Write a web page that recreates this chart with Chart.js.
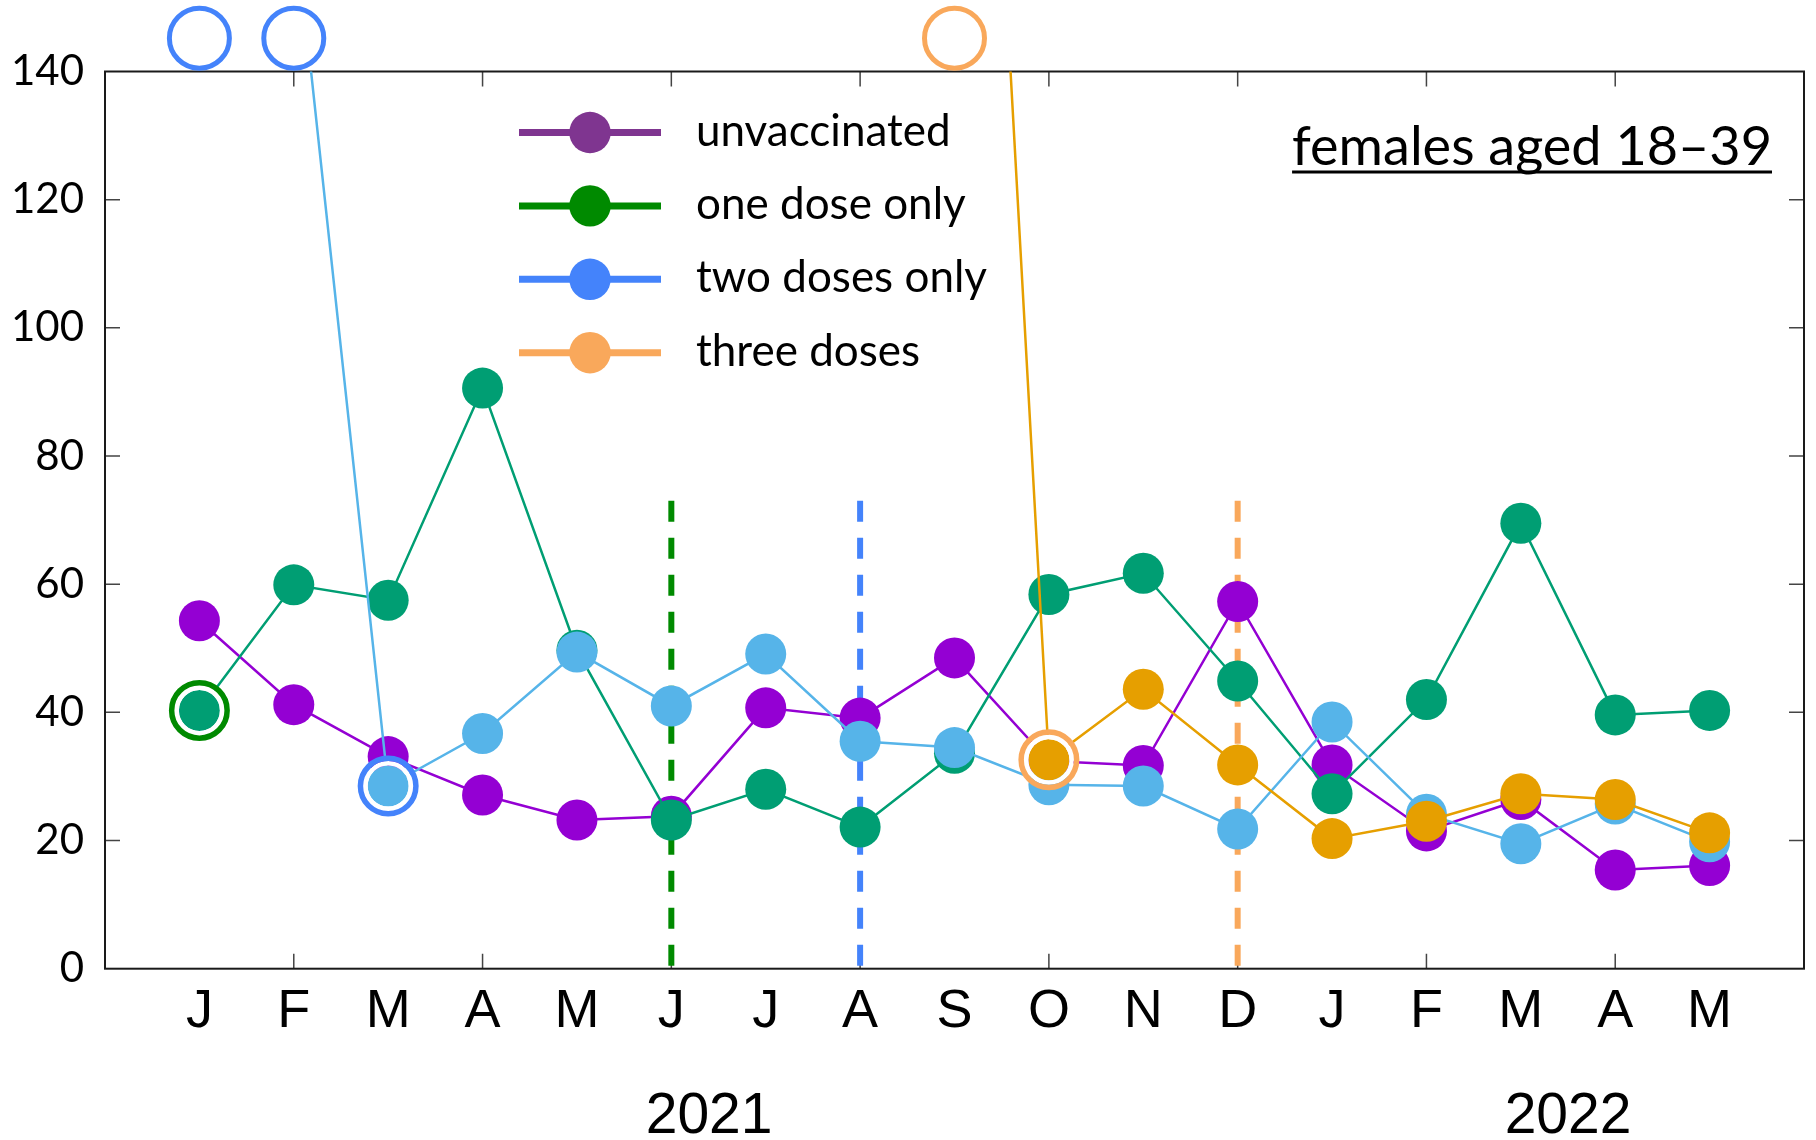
<!DOCTYPE html>
<html>
<head>
<meta charset="utf-8">
<title>females aged 18-39</title>
<script src="https://cdn.jsdelivr.net/npm/chart.js@4.4.0/dist/chart.umd.min.js"></script>
<style>
  body { margin: 0; background: #fff; }
  #wrap { width: 1816px; height: 1140px; position: relative; }
</style>
</head>
<body>
<div id="wrap"><canvas id="chart"></canvas></div>
<script>
// months from Jan 2021 to May 2022
const months = ["J", "F", "M", "A", "M", "J", "J", "A", "S", "O", "N", "D", "J", "F", "M", "A", "M"];
const years = ["2021", "2022"];
const yearCenters = [5.4, 14.5];

const unvaccinated = [54.3, 41.2, 33.1, 27.1, 23.2, 23.8, 40.7, 39.1, 48.5, 32.4, 31.7, 57.3, 31.8, 21.5, 26.4, 15.4, 16.1];
const oneDose = [40.3, 59.9, 57.5, 90.6, 49.7, 23.2, 28.0, 22.1, 33.6, 58.4, 61.7, 44.9, 27.3, 42.0, 69.5, 39.6, 40.3];
const twoDoses = [250, 165, 28.5, 36.7, 49.4, 41.0, 49.1, 35.5, 34.5, 28.7, 28.5, 21.8, 38.5, 24.1, 19.5, 25.7, 19.8];
const threeDoses = [null, null, null, null, null, null, null, null, 297, 32.6, 43.6, 31.8, 20.3, 23.0, 27.3, 26.4, 21.2];

// month index where each dose became available (dashed lines)
const doseStartMonths = [5, 7, 11];
const doseStartTop = 73;

const Y_MAX = 140;
const OFFSCALE_Y = 145.2;

const seriesColors = ["#9400d3", "#009e73", "#56b4e9", "#e69f00"];
const keyColors = ["#7f3590", "#008a00", "#4483fb", "#f9a85b"];
const seriesNames = ["unvaccinated", "one dose only", "two doses only", "three doses"];

const allSeries = [unvaccinated, oneDose, twoDoses, threeDoses];

function toPoints(values) {
    return values.map((v, i) => ({ x: i, y: v }));
}

// first value that is on the scale, for the three vaccinated groups
let ringPoints = [];
let ringColors = [];
let offPoints = [];
let offColors = [];
[oneDose, twoDoses, threeDoses].forEach((values, k) => {
    const first = values.findIndex(v => v !== null && v <= Y_MAX);
    ringPoints.push({ x: first, y: values[first] });
    ringColors.push(keyColors[k + 1]);
    values.forEach((v, i) => {
        if (v !== null && v > Y_MAX) {
            offPoints.push({ x: i, y: OFFSCALE_Y });
            offColors.push(keyColors[k + 1]);
        }
    });
});

let datasets = [];

doseStartMonths.forEach((m, k) => {
    datasets.push({
        data: [{ x: m, y: doseStartTop }, { x: m, y: 0 }],
        borderColor: keyColors[k + 1],
        borderWidth: 6,
        borderDash: [21, 16],
        borderCapStyle: "butt",
        pointRadius: 0,
        order: 10
    });
});

allSeries.forEach((values, k) => {
    datasets.push({
        label: seriesNames[k],
        data: toPoints(values),
        borderColor: seriesColors[k],
        backgroundColor: seriesColors[k],
        borderWidth: 2.5,
        pointRadius: 20.5,
        pointHoverRadius: 20.5,
        pointBorderWidth: 0,
        pointBackgroundColor: seriesColors[k],
        order: 3 - k
    });
});

// white gap and coloured ring round the first point of each group
datasets.push({
    data: ringPoints,
    showLine: false,
    pointRadius: 22.75,
    pointHoverRadius: 22.75,
    pointBorderWidth: 4.5,
    pointBorderColor: "#ffffff",
    pointBackgroundColor: "rgba(0,0,0,0)",
    order: -1
});
datasets.push({
    data: ringPoints,
    showLine: false,
    pointRadius: 27.75,
    pointHoverRadius: 27.75,
    pointBorderWidth: 5.5,
    pointBorderColor: ringColors,
    pointBackgroundColor: "rgba(0,0,0,0)",
    order: -2
});

// open circles above the frame for values off the scale
datasets.push({
    data: offPoints,
    showLine: false,
    pointRadius: 30,
    pointHoverRadius: 30,
    pointBorderWidth: 5,
    pointBorderColor: offColors,
    pointBackgroundColor: "rgba(0,0,0,0)",
    clip: false,
    order: -3
});

const framePlugin = {
    id: "frame",
    beforeDatasetsDraw(chart) {
        const ctx = chart.ctx;
        const a = chart.chartArea;
        const x = chart.scales.x;
        const y = chart.scales.y;
        ctx.save();
        ctx.strokeStyle = "#444";
        ctx.lineWidth = 1.5;
        ctx.beginPath();
        for (let v = 20; v < Y_MAX; v += 20) {
            const py = y.getPixelForValue(v);
            ctx.moveTo(a.left, py);
            ctx.lineTo(a.left + 15, py);
            ctx.moveTo(a.right, py);
            ctx.lineTo(a.right - 15, py);
        }
        for (let i = 1; i < months.length; i += 2) {
            const px = x.getPixelForValue(i);
            ctx.moveTo(px, a.bottom);
            ctx.lineTo(px, a.bottom - 15);
            ctx.moveTo(px, a.top);
            ctx.lineTo(px, a.top + 15);
        }
        ctx.stroke();
        ctx.strokeStyle = "#1a1a1a";
        ctx.lineWidth = 2;
        ctx.strokeRect(a.left, a.top, a.right - a.left, a.bottom - a.top);
        ctx.restore();
    }
};

const textPlugin = {
    id: "texts",
    afterDraw(chart) {
        const ctx = chart.ctx;
        const x = chart.scales.x;
        ctx.save();

        // years under the month letters
        ctx.fillStyle = "#000";
        ctx.font = "57px 'Liberation Sans', Arial, sans-serif";
        ctx.textAlign = "center";
        ctx.textBaseline = "middle";
        years.forEach((yr, i) => {
            ctx.fillText(yr, x.getPixelForValue(yearCenters[i]), 1117);
        });

        // key
        ctx.textAlign = "left";
        ctx.textBaseline = "alphabetic";
        ctx.font = "44px Lato, 'Noto Sans', sans-serif";
        seriesNames.forEach((name, k) => {
            const ry = 132.5 + k * 73.4;
            ctx.strokeStyle = keyColors[k];
            ctx.lineWidth = 7;
            ctx.beginPath();
            ctx.moveTo(519, ry);
            ctx.lineTo(661, ry);
            ctx.stroke();
            ctx.fillStyle = keyColors[k];
            ctx.beginPath();
            ctx.arc(590, ry, 20.7, 0, Math.PI * 2);
            ctx.fill();
            ctx.fillStyle = "#000";
            ctx.fillText(name, 696, ry + 13);
        });

        // panel title, underlined
        const title = "females aged 18\u201339";
        ctx.font = "54px Lato, 'Noto Sans', sans-serif";
        ctx.textAlign = "right";
        ctx.fillText(title, 1772, 165);
        const w = ctx.measureText(title).width;
        ctx.fillRect(1772 - w, 170.5, w, 3);

        ctx.restore();
    }
};

new Chart(document.getElementById("chart"), {
    type: "line",
    data: { datasets: datasets },
    options: {
        responsive: true,
        maintainAspectRatio: false,
        animation: false,
        layout: {
            autoPadding: false,
            padding: { left: 0, right: 12, top: 71.5, bottom: 0 }
        },
        plugins: {
            legend: { display: false },
            tooltip: { enabled: false },
            title: { display: false }
        },
        scales: {
            x: {
                type: "linear",
                min: -1,
                max: 17,
                grid: { display: false, drawTicks: false },
                border: { display: false },
                ticks: {
                    stepSize: 1,
                    autoSkip: false,
                    maxRotation: 0,
                    padding: 16,
                    color: "#000",
                    font: { family: "'Liberation Sans Narrow', 'Arial Narrow', 'Liberation Sans', sans-serif", size: 54, lineHeight: 1 },
                    callback: (v) => months[v] !== undefined ? months[v] : ""
                },
                afterFit: (scale) => {
                    scale.height = 171.3;
                    scale.paddingLeft = 0;
                    scale.paddingRight = 0;
                }
            },
            y: {
                min: 0,
                max: Y_MAX,
                grid: { display: false, drawTicks: false },
                border: { display: false },
                ticks: {
                    stepSize: 20,
                    padding: 21,
                    color: "#000",
                    font: { family: "Lato, 'Noto Sans', sans-serif", size: 42 }
                },
                afterFit: (scale) => { scale.width = 105; }
            }
        }
    },
    plugins: [framePlugin, textPlugin]
});
</script>
</body>
</html>
